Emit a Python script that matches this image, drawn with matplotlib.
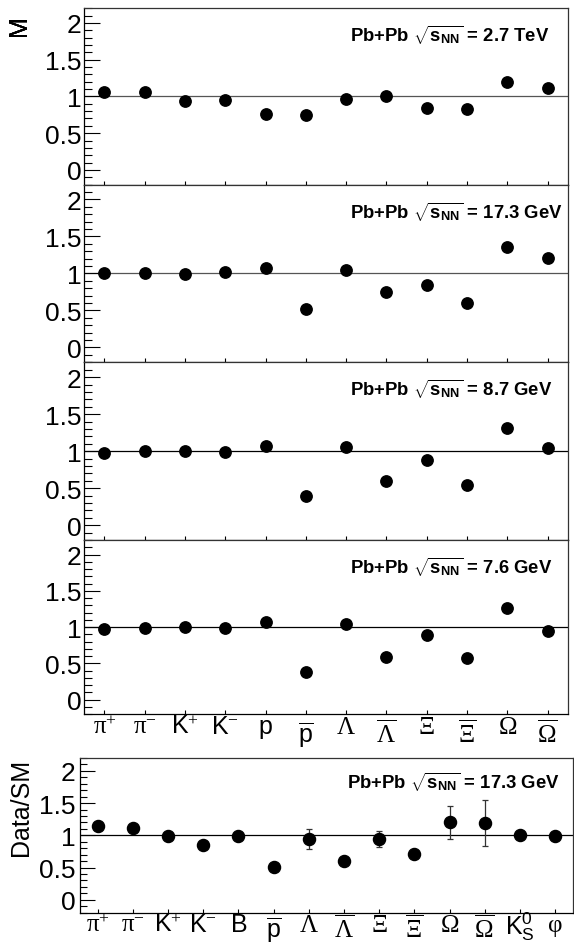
import matplotlib
matplotlib.use('Agg')
import matplotlib.pyplot as plt
import matplotlib.transforms as mtransforms
from matplotlib.ticker import MultipleLocator, FixedLocator

plt.rcParams['font.family'] = ['Liberation Sans', 'DejaVu Sans']
plt.rcParams['mathtext.fontset'] = 'custom'
plt.rcParams['mathtext.rm'] = 'Liberation Serif'
plt.rcParams['mathtext.sf'] = 'Liberation Sans'
plt.rcParams['mathtext.bf'] = 'Liberation Sans:bold'
plt.rcParams['mathtext.it'] = 'Liberation Serif:italic'

# ---------------- data ----------------
top_labels = [r'$\mathrm{π}^{+}$', r'$\mathrm{π}^{-}$', r'$\mathsf{K}^{+}$', r'$\mathsf{K}^{-}$',
              r'$\mathsf{p}$', r'$\overline{\mathsf{p}}$', r'$\mathrm{Λ}$', r'$\overline{\mathrm{Λ}}$',
              r'$\mathrm{Ξ}$', r'$\overline{\mathrm{Ξ}}$', r'$\mathrm{Ω}$', r'$\overline{\mathrm{Ω}}$']

energies = ['2.7 TeV', '17.3 GeV', '8.7 GeV', '7.6 GeV']

m_2700 = [1.06, 1.06, 0.94, 0.945, 0.755, 0.75, 0.97, 1.005, 0.84, 0.83, 1.195, 1.12]
m_173 = [1.005, 1.01, 0.995, 1.02, 1.07, 0.515, 1.045, 0.75, 0.85, 0.60, 1.36, 1.215]
m_87 = [0.975, 1.0, 1.0, 0.985, 1.07, 0.395, 1.05, 0.60, 0.877, 0.54, 1.31, 1.045]
m_76 = [0.97, 0.99, 1.0, 0.98, 1.064, 0.386, 1.045, 0.586, 0.895, 0.573, 1.264, 0.945]
top_series = [m_2700, m_173, m_87, m_76]

bot_labels = [r'$\mathrm{π}^{+}$', r'$\mathrm{π}^{-}$', r'$\mathsf{K}^{+}$', r'$\mathsf{K}^{-}$',
              r'$\mathsf{B}$', r'$\overline{\mathsf{p}}$', r'$\mathrm{Λ}$', r'$\overline{\mathrm{Λ}}$',
              r'$\mathrm{Ξ}$', r'$\overline{\mathrm{Ξ}}$', r'$\mathrm{Ω}$', r'$\overline{\mathrm{Ω}}$',
              r'$\mathsf{K}^{\mathsf{0}}_{\mathsf{S}}$', r'$\mathrm{φ}$']
data_sm = [1.14, 1.11, 0.995, 0.85, 0.985, 0.51, 0.94, 0.60, 0.94, 0.716, 1.20, 1.19, 1.0, 0.985]
data_sm_err = [0, 0, 0, 0, 0, 0, 0.155, 0, 0.124, 0, 0.26, 0.355, 0, 0]
bot_energy = '17.3 GeV'

# ---------------- layout ----------------
W, H = 574, 945
fig = plt.figure(figsize=(W / 100, H / 100), dpi=100)

edges = [9.3, 185.6, 363.3, 541.0, 715.0]
left_px, right_px = 84.3, 567.7
line_colors = ['#555555', '#555555', 'black', 'black']


def style_axis(ax, major_len, minor_len):
    ax.set_ylim(-0.2, 2.2)
    ax.yaxis.set_major_locator(FixedLocator([0, 0.5, 1, 1.5, 2]))
    ax.yaxis.set_major_formatter(plt.FuncFormatter(lambda v, p: ('%g' % v)))
    ax.yaxis.set_minor_locator(MultipleLocator(0.1))
    ax.tick_params(axis='y', which='major', direction='in', length=major_len, width=0.8,
                   labelsize=19, pad=2, left=True, right=False)
    ax.tick_params(axis='y', which='minor', direction='in', length=minor_len, width=0.8,
                   left=True, right=False)
    ax.tick_params(axis='x', which='major', direction='in', length=3, width=0.8,
                   bottom=True, top=False)
    ax.tick_params(axis='x', which='minor', bottom=False, top=False)
    for s in ['left', 'bottom']:
        ax.spines[s].set_linewidth(0.9)
        ax.spines[s].set_color('black')
    for s in ['top', 'right']:
        ax.spines[s].set_linewidth(0.9)
        ax.spines[s].set_color('#333333')


def set_cat_labels(ax, labels, pad, bar_shift_px, script_shift_px=0):
    ax.set_xticklabels(labels, fontsize=18)
    ax.tick_params(axis='x', pad=pad)
    off = mtransforms.ScaledTranslation(0, -bar_shift_px / 100.0, fig.dpi_scale_trans)
    off2 = mtransforms.ScaledTranslation(0, -script_shift_px / 100.0, fig.dpi_scale_trans)
    for t, lab in zip(ax.get_xticklabels(), labels):
        t.set_verticalalignment('baseline')
        if 'overline' in lab:
            t.set_transform(t.get_transform() + off)
        elif '_{' in lab:
            t.set_transform(t.get_transform() + off2)


for i in range(4):
    bottom = 1 - edges[i + 1] / H
    height = (edges[i + 1] - edges[i]) / H
    ax = fig.add_axes([left_px / W, bottom, (right_px - left_px) / W, height])
    x = list(range(len(top_labels)))
    ax.axhline(1.0, color=line_colors[i], lw=0.9, zorder=1)
    ax.plot(x, top_series[i], 'o', color='black', ms=8.2, zorder=3)
    ax.set_xlim(-0.5, len(top_labels) - 0.5)
    style_axis(ax, 11.3, 5.8)
    ax.set_xticks(x)
    if i == 3:
        set_cat_labels(ax, top_labels, 14.0, 8)
    else:
        ax.set_xticklabels([])
    ax.set_ylabel('M', fontsize=18, loc='top')
    ax.yaxis.set_label_coords((31 - left_px) / (right_px - left_px),
                              1 - (15 - edges[i]) / (edges[i + 1] - edges[i]))
    ax.text((350 - left_px) / (right_px - left_px),
            1 - 33.4 / (edges[i + 1] - edges[i]),
            'Pb+Pb $\\sqrt{\\mathbf{s}_{\\mathbf{NN}}}$ = ' + energies[i],
            transform=ax.transAxes, fontsize=13.3, fontweight='bold', ha='left', va='baseline')

# bottom panel
bl, br, bt, bb = 80.0, 572.7, 759.0, 913.7
axb = fig.add_axes([bl / W, 1 - bb / H, (br - bl) / W, (bb - bt) / H])
xb = list(range(len(bot_labels)))
axb.axhline(1.0, color='black', lw=0.9, zorder=1)
axb.errorbar(xb, data_sm, yerr=data_sm_err, fmt='o', color='black', ms=8.7,
             ecolor='#333333', elinewidth=0.9, capsize=2.5, capthick=0.9, zorder=3)
axb.set_xlim(-0.5, len(bot_labels) - 0.5)
style_axis(axb, 10.8, 5.3)
axb.tick_params(axis='y', pad=3)
axb.set_xticks(xb)
set_cat_labels(axb, bot_labels, 13.0, 6, 3)
axb.set_ylabel('Data/SM', fontsize=18, loc='top')
axb.yaxis.set_label_coords((33 - bl) / (br - bl), 1.0)
axb.text((347 - bl) / (br - bl), 1 - 30 / (bb - bt),
         'Pb+Pb $\\sqrt{\\mathbf{s}_{\\mathbf{NN}}}$ = ' + bot_energy,
         transform=axb.transAxes, fontsize=13.3, fontweight='bold', ha='left', va='baseline')

fig.savefig('out.png', dpi=100)
